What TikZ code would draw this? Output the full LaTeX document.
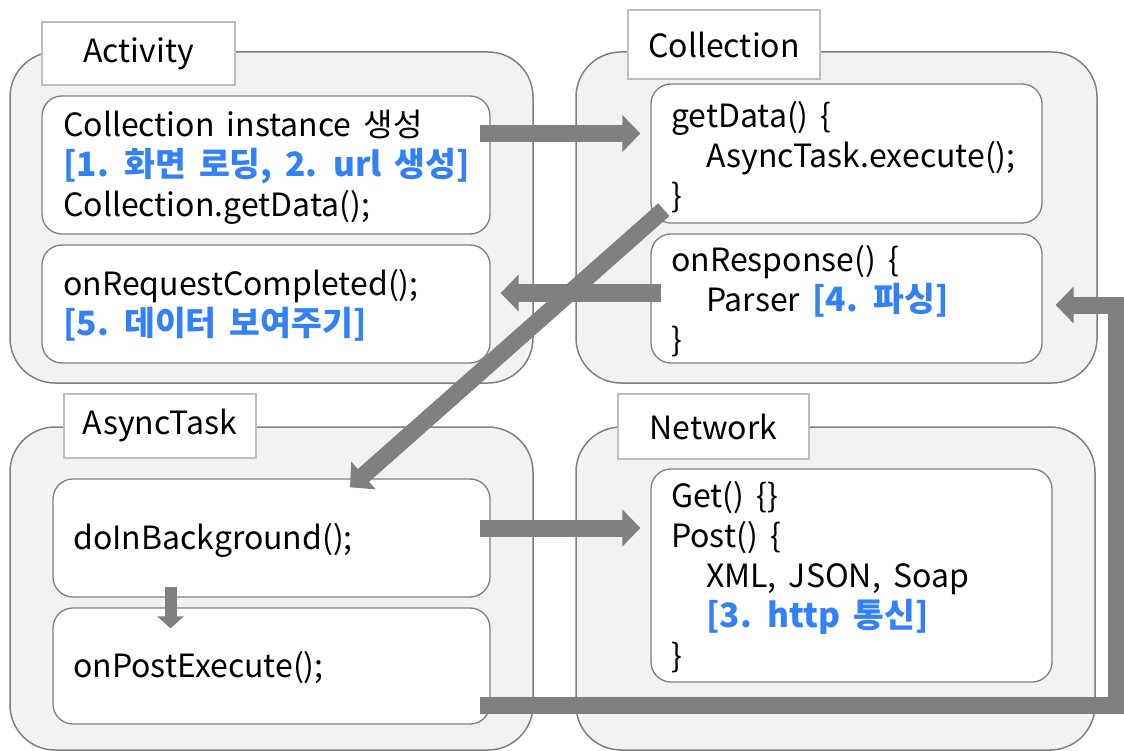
\documentclass[tikz,border=0pt]{standalone}
\usepackage{fontspec}
\setmainfont{Noto Sans CJK KR}[WordSpace=1.7]
\usetikzlibrary{arrows.meta}
\definecolor{boxgray}{RGB}{128,128,128}
\definecolor{labelgray}{RGB}{190,190,190}
\definecolor{outerfill}{RGB}{242,242,242}
\definecolor{arrowgray}{RGB}{128,128,128}
\definecolor{hlblue}{RGB}{51,129,247}
\newcommand{\hl}[1]{{\fontsize{33.5}{40}\selectfont\color{hlblue}\bfseries #1}}
\begin{document}
\begin{tikzpicture}[x=1pt,y=-1pt,
  every node/.style={font=\fontsize{32}{40}\selectfont},
  outerbox/.style={draw=boxgray, fill=outerfill, rounded corners=45pt, line width=1.5pt, inner sep=0pt},
  innerbox/.style={draw=boxgray, fill=white, rounded corners=20pt, line width=1.3pt, inner sep=0pt},
  labelbox/.style={draw=labelgray, fill=white, line width=1.3pt, inner sep=0pt},
  code/.style={anchor=west, align=left, inner sep=0pt},
  bigarrow/.style={draw=arrowgray, line width=17pt, line join=miter, -{Triangle[length=18pt,width=36pt]}},
  smallarrow/.style={draw=arrowgray, line width=12pt, -{Triangle[length=12pt,width=26pt]}}]
\useasboundingbox (0,0) rectangle (1124,751);
% outer containers
\node[outerbox, minimum width=523pt, minimum height=331pt] (act) at (271.5,217.5) {};
\node[outerbox, minimum width=521pt, minimum height=331pt] (col) at (836.5,217.5) {};
\node[outerbox, minimum width=523pt, minimum height=323pt] (asy) at (271.5,588.5) {};
\node[outerbox, minimum width=519pt, minimum height=323pt] (net) at (835.5,588.5) {};
% title labels
\node[labelbox, minimum width=193pt, minimum height=63pt] (actl) at (138.5,53.5) {Activity};
\node[labelbox, minimum width=192pt, minimum height=69pt] (coll) at (724,44.5) {Collection};
\node[labelbox, minimum width=192pt, minimum height=64pt] (asyl) at (160,426) {AsyncTask};
\node[labelbox, minimum width=191pt, minimum height=65pt] (netl) at (713.5,426.5) {Network};
% inner boxes
\node[innerbox, minimum width=448pt, minimum height=138pt] (a1) at (266,165) {};
\node[innerbox, minimum width=448pt, minimum height=118pt] (a2) at (266,304) {};
\node[innerbox, minimum width=391pt, minimum height=139pt] (c1) at (846.5,153.5) {};
\node[innerbox, minimum width=391pt, minimum height=129pt] (c2) at (846.5,298.5) {};
\node[innerbox, minimum width=437pt, minimum height=118pt] (b1) at (271.5,538) {};
\node[innerbox, minimum width=437pt, minimum height=116pt] (b2) at (271.5,666) {};
\node[innerbox, minimum width=401pt, minimum height=213pt] (n1) at (851.5,575.5) {};
% texts
\node[code] (a1t) at (63,167) {Collection instance 생성\\\hl{[1. 화면 로딩, 2. url 생성]}\\Collection.getData();};
\node[code] (a2t) at (63,305) {onRequestCompleted();\\\hl{[5. 데이터 보여주기]}};
\node[code] (c1t) at (671,157) {getData() \{\\\hspace*{35pt}AsyncTask.execute();\\\}};
\node[code] (c2t) at (671,301) {onResponse() \{\\\hspace*{35pt}Parser \hl{[4. 파싱]}\\\}};
\node[code] (b1t) at (73,540) {doInBackground();};
\node[code] (b2t) at (73,668) {onPostExecute();};
\node[code] (n1t) at (671,577) {Get() \{\}\\Post() \{\\\hspace*{35pt}XML, JSON, Soap\\\hspace*{35pt}\hl{[3. http 통신]}\\\}};
% arrows
\draw[bigarrow] ([shift={(-11,-31.5)}]a1.east) -- ([shift={(-10,-20)}]c1.west);
\draw[bigarrow] ([shift={(11,-5.5)}]c2.west) -- ([shift={(10,-11)}]a2.east);
\draw[bigarrow] ([shift={(13.5,-14)}]c1.south west) -- ([shift={(78.5,9)}]b1.north);
\draw[bigarrow] ([shift={(-11,-10)}]b1.east) -- ([shift={(-10,-47.5)}]n1.west);
\draw[smallarrow] ([shift={(-101,-11)}]b1.south) -- ([shift={(-101,21)}]b2.north);
\draw[bigarrow] ([shift={(-11,39)}]b2.east) -- ++(637,0) |- ([shift={(13,6.5)}]c2.east);
\end{tikzpicture}
\end{document}
